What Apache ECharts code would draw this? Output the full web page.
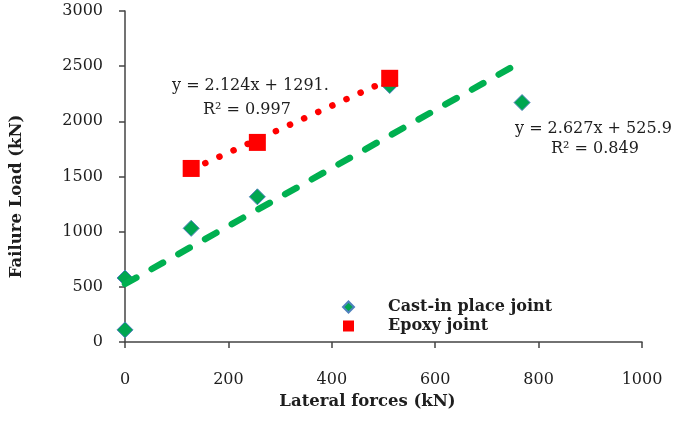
<!DOCTYPE html>
<html><head><meta charset="utf-8">
<script src="https://cdn.jsdelivr.net/npm/echarts@6/dist/echarts.min.js"></script>
<style>html,body{margin:0;padding:0;background:#fff}#c{width:683px;height:425px}</style>
</head><body><div id="c"></div>
<script>
var xTicks = [0, 200, 400, 600, 800, 1000];
var yTicks = [0, 500, 1000, 1500, 2000, 2500, 3000];
var castX = [0, 0, 128, 256, 512, 768];
var castY = [110, 580, 1030, 1316, 2325, 2170];
var epoxyX = [128, 256, 512];
var epoxyY = [1573, 1809, 2390];
var castTrendX = [0, 768];
var castTrendY = [526, 2543];
var epoxyTrendX = [128, 512];
var epoxyTrendY = [1563, 2379];
var castEq = ['y = 2.627x + 525.9', 'R² = 0.849'];
var epoxyEq = ['y = 2.124x + 1291.', 'R² = 0.997'];

function pairs(xs, ys){ return xs.map(function(x,i){return [x, ys[i]];}); }
var font = '"DejaVu Serif", "Liberation Serif", serif';
var ink = '#1e1e1e';
var chart = echarts.init(document.getElementById('c'));
chart.setOption({
  animation: false,
  grid: {left: 124, right: 41, top: 11, bottom: 83},
  xAxis: {type: 'value', min: xTicks[0], max: xTicks[xTicks.length-1], interval: 200,
    name: 'Lateral forces (kN)', nameLocation: 'middle', nameGap: 50,
    nameTextStyle: {fontFamily: font, fontWeight: 'bold', fontSize: 16.5, color: ink, padding: [0, 32, 0, 0]},
    axisLine: {lineStyle: {color: '#444', width: 1.5}},
    axisTick: {inside: false, length: 6, lineStyle: {color: '#444', width: 1.5}},
    axisLabel: {fontFamily: font, fontSize: 16, color: ink, margin: 30, formatter: function(v){return String(v);}},
    splitLine: {show: false}},
  yAxis: {type: 'value', min: yTicks[0], max: yTicks[yTicks.length-1], interval: 500,
    name: 'Failure Load (kN)', nameLocation: 'middle', nameGap: 100,
    nameTextStyle: {fontFamily: font, fontWeight: 'bold', fontSize: 16.5, color: ink, padding: [0, 40, 0, 0]},
    axisLine: {show: true, lineStyle: {color: '#444', width: 1.5}},
    axisTick: {show: true, length: 6, lineStyle: {color: '#444', width: 1.5}},
    axisLabel: {fontFamily: font, fontSize: 16, color: ink, margin: 22, formatter: function(v){return String(v);}},
    splitLine: {show: false}},
  legend: {orient: 'vertical', left: 337, top: 294, itemGap: 3, itemWidth: 11, itemHeight: 11,
    data: [{name: 'Cast-in place joint', icon: 'diamond'}, {name: 'Epoxy joint', icon: 'rect'}],
    textStyle: {fontFamily: font, fontWeight: 'bold', fontSize: 16, color: ink, padding: [0,0,0,29]}},
  series: [
    {name: 'castTrend', type: 'line', symbol: 'none', z: 3, silent: true,
     lineStyle: {color: '#00b050', width: 6.5, type: [13, 17.6], cap: 'round', opacity: 1},
     data: pairs(castTrendX, castTrendY)},
    {name: 'epoxyTrend', type: 'line', symbol: 'none', z: 3, silent: true,
     lineStyle: {color: '#ff0000', width: 6.5, type: [0.1, 15.4], cap: 'round', opacity: 1},
     data: pairs(epoxyTrendX, epoxyTrendY)},
    {name: 'Cast-in place joint', type: 'scatter', symbol: 'diamond', symbolSize: 16, z: 2,
     itemStyle: {color: '#00a651', borderColor: '#4f81bd', borderWidth: 1, opacity: 1},
     data: pairs(castX, castY)},
    {name: 'Epoxy joint', type: 'scatter', symbol: 'rect', symbolSize: 17, z: 4,
     itemStyle: {color: '#ff0000', opacity: 1}, data: pairs(epoxyX, epoxyY)}
  ],
  graphic: [
    {type: 'text', left: 172, top: 78, style: {text: epoxyEq[0], font: '16px ' + font, fill: ink}},
    {type: 'text', left: 203, top: 102, style: {text: epoxyEq[1], font: '16px ' + font, fill: ink}},
    {type: 'text', left: 515, top: 121, style: {text: castEq[0], font: '16px ' + font, fill: ink}},
    {type: 'text', left: 551, top: 141, style: {text: castEq[1], font: '16px ' + font, fill: ink}}
  ]
});
</script></body></html>
